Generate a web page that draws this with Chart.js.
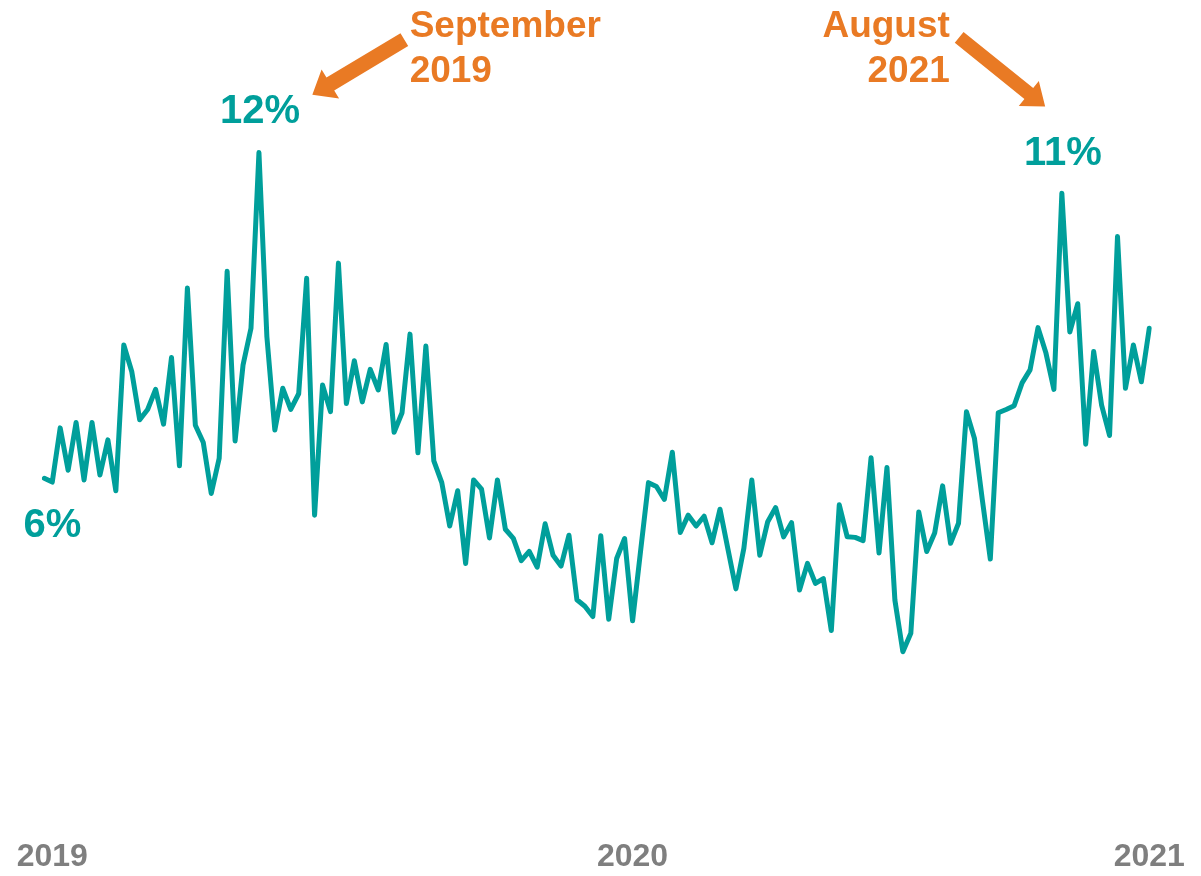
<!DOCTYPE html>
<html>
<head>
<meta charset="utf-8">
<title>Weekly share</title>
<script src="https://cdn.jsdelivr.net/npm/chart.js@4.4.1/dist/chart.umd.min.js"></script>
<style>
  html, body { margin: 0; padding: 0; background: #fff; }
  #wrap { width: 1201px; height: 876px; }
</style>
</head>
<body>
<div id="wrap"><canvas id="grafico" width="1201" height="876"></canvas></div>
<script>
// weekly values in percent
const shareValues = [
  6.00, 5.93, 6.93, 6.15, 7.03, 5.97, 7.03, 6.06, 6.71, 5.77,
  8.46, 7.97, 7.08, 7.27, 7.64, 7.00, 8.23, 6.23, 9.51, 6.98,
  6.66, 5.72, 6.37, 9.82, 6.69, 8.09, 8.77, 12.01, 8.61, 6.89,
  7.66, 7.27, 7.56, 9.69, 5.32, 7.72, 7.23, 9.97, 7.38, 8.17,
  7.41, 8.01, 7.63, 8.47, 6.85, 7.21, 8.66, 6.47, 8.44, 6.32,
  5.92, 5.12, 5.77, 4.43, 5.97, 5.80, 4.90, 5.97, 5.06, 4.89,
  4.48, 4.65, 4.36, 5.16, 4.58, 4.38, 4.95, 3.76, 3.64, 3.45,
  4.94, 3.40, 4.52, 4.89, 3.37, 4.65, 5.92, 5.85, 5.61, 6.48,
  5.00, 5.32, 5.12, 5.30, 4.81, 5.43, 4.69, 3.96, 4.71, 5.97,
  4.58, 5.20, 5.46, 4.92, 5.18, 3.94, 4.43, 4.06, 4.15, 3.19,
  5.51, 4.92, 4.91, 4.85, 6.38, 4.62, 6.20, 3.75, 2.80, 3.14,
  5.38, 4.65, 4.99, 5.86, 4.80, 5.17, 7.23, 6.74, 5.60, 4.51,
  7.21, 7.27, 7.34, 7.76, 8.00, 8.78, 8.31, 7.64, 11.26, 8.70,
  9.22, 6.63, 8.34, 7.35, 6.79, 10.46, 7.66, 8.46, 7.78, 8.77
];

// year tick labels and the week they sit under
const yearLabels = ['2019', '2020', '2021'];
const yearLabelWeek = [1, 74, 139];

// callouts
const valueNotes = ['6%', '12%', '11%'];
const valueNoteWeek = [0, 27, 128];
const monthNotes = [['September', '2019'], ['August', '2021']];

const TEAL = '#009f9b';
const ORANGE = '#e97a24';
const GREY = '#7f7f7f';
const FONT = '"Liberation Sans", Arial, sans-serif';

const weekLabels = shareValues.map(() => '');
yearLabelWeek.forEach((w, i) => { weekLabels[w] = yearLabels[i]; });

function drawArrow(ctx, x1, y1, x2, y2, w, hw, hl) {
    const len = Math.hypot(x2 - x1, y2 - y1);
    const ux = (x2 - x1) / len, uy = (y2 - y1) / len;
    const nx = -uy, ny = ux;
    const bx = x2 - ux * hl, by = y2 - uy * hl;
    ctx.beginPath();
    ctx.moveTo(x1 + nx * w / 2, y1 + ny * w / 2);
    ctx.lineTo(bx + nx * w / 2, by + ny * w / 2);
    ctx.lineTo(bx + nx * hw / 2, by + ny * hw / 2);
    ctx.lineTo(x2, y2);
    ctx.lineTo(bx - nx * hw / 2, by - ny * hw / 2);
    ctx.lineTo(bx - nx * w / 2, by - ny * w / 2);
    ctx.lineTo(x1 - nx * w / 2, y1 - ny * w / 2);
    ctx.closePath();
    ctx.fill();
}

// texts and arrows placed relative to the points they point at
const calloutPlugin = {
    id: 'callouts',
    afterDatasetsDraw(chart) {
        const ctx = chart.ctx;
        const xs = chart.scales.x, ys = chart.scales.y;
        const pt = w => ({ x: xs.getPixelForValue(w), y: ys.getPixelForValue(shareValues[w]) });
        const p0 = pt(valueNoteWeek[0]);
        const p1 = pt(valueNoteWeek[1]);
        const p2 = pt(valueNoteWeek[2]);
        ctx.save();
        ctx.textBaseline = 'alphabetic';
        ctx.fillStyle = TEAL;
        ctx.font = 'bold 40px ' + FONT;
        ctx.textAlign = 'center';
        ctx.fillText(valueNotes[0], p0.x + 8, p0.y + 58.5);
        ctx.fillText(valueNotes[1], p1.x + 1, p1.y - 30);
        ctx.fillText(valueNotes[2], p2.x + 1, p2.y - 28);

        ctx.fillStyle = ORANGE;
        ctx.font = 'bold 37px ' + FONT;
        ctx.textAlign = 'left';
        ctx.fillText(monthNotes[0][0], p1.x + 150.7, p1.y - 116);
        ctx.fillText(monthNotes[0][1], p1.x + 150.7, p1.y - 71);
        ctx.textAlign = 'right';
        ctx.fillText(monthNotes[1][0], p2.x - 112, p2.y - 156.6);
        ctx.fillText(monthNotes[1][1], p2.x - 112, p2.y - 111.6);

        drawArrow(ctx, p1.x + 145.4, p1.y - 113, p1.x + 53.4, p1.y - 57.7, 15, 34, 21);
        drawArrow(ctx, p2.x - 102.7, p2.y - 155.8, p2.x - 16.7, p2.y - 86.6, 14, 32, 21);
        ctx.restore();
    }
};

new Chart(document.getElementById('grafico').getContext('2d'), {
    type: 'line',
    data: {
        labels: weekLabels,
        datasets: [{
            data: shareValues,
            borderColor: TEAL,
            borderWidth: 5,
            borderJoinStyle: 'round',
            borderCapStyle: 'round',
            pointRadius: 0,
            tension: 0,
            fill: false
        }]
    },
    options: {
        responsive: false,
        animation: false,
        events: [],
        layout: { padding: { left: 44.3, right: 51.7, top: 44.7, bottom: 0 } },
        plugins: { legend: { display: false }, tooltip: { enabled: false } },
        scales: {
            x: {
                grid: { display: false, drawTicks: false },
                border: { display: false },
                afterFit(scale) {
                    scale.height = 72.5;
                    scale.paddingLeft = 0;
                    scale.paddingRight = 0;
                },
                ticks: {
                    autoSkip: false,
                    maxRotation: 0,
                    padding: 34,
                    color: GREY,
                    font: { family: FONT, size: 32, weight: 'bold' }
                }
            },
            y: { display: false, min: 0, max: 14 }
        }
    },
    plugins: [calloutPlugin]
});
</script>
</body>
</html>
